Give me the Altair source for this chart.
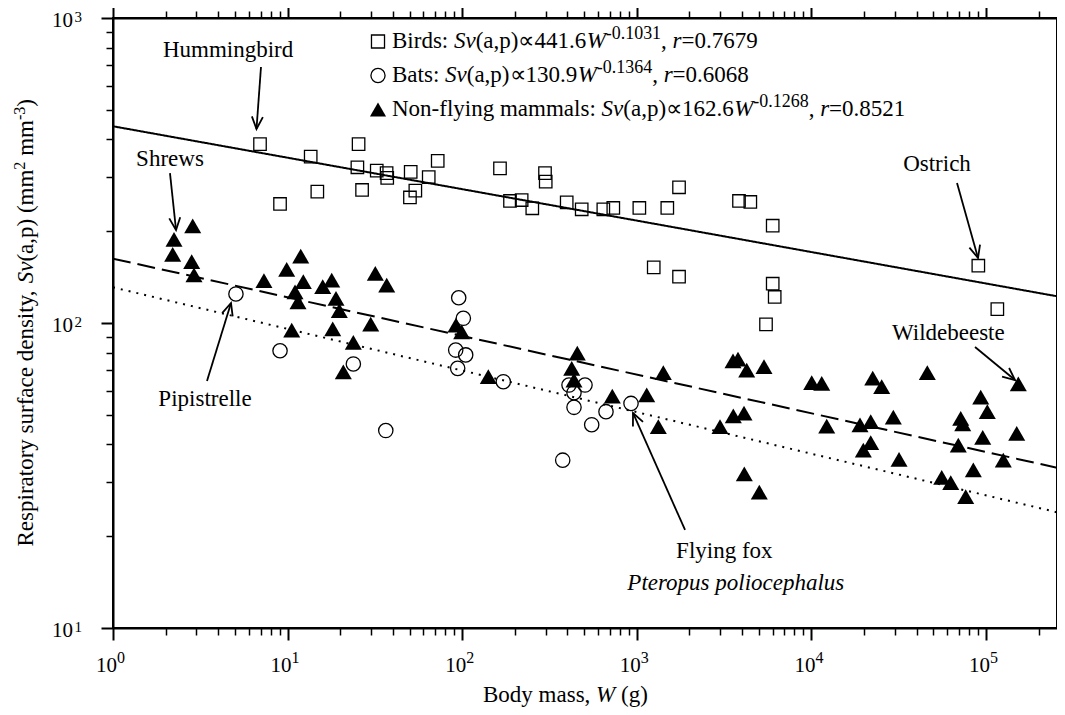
import math
import altair as alt
import pandas as pd

# ---------------- data ----------------
bird_mass = [6.95, 13.56, 25.5, 25.1, 32.4, 36.9, 37.2, 50.7, 64.3, 72.4, 53.9, 50.2, 14.8,
             26.7, 9.05, 164.6, 298, 300.8, 187.8, 219, 252, 396.7, 483.5, 643, 733.5, 1034,
             1495, 1745, 3848, 4468, 6002, 1250, 1745, 6002, 6162, 5495, 90360, 116100]
bird_sv = [386, 351, 386, 324, 316, 310, 299, 313, 301, 340, 271.6, 258, 269.5,
           273, 245.6, 321.5, 310, 290.6, 251.2, 253, 237.8, 248.7, 236, 236, 238.3, 238.3,
           238.3, 278.6, 251.2, 249.3, 208.4, 152.2, 141.8, 134.5, 121.7, 99.0, 154.1, 111.1]

bat_mass = [5.06, 95.5, 101.5, 9.05, 23.8, 36.5, 91.8, 104.7, 94.2, 172, 409, 505,
            436.8, 436.8, 551.6, 376.4, 666, 926.4]
bat_sv = [124.5, 121, 103.6, 81.1, 73.4, 44.4, 81.5, 78.6, 71.0, 64.2, 62.6, 62.6,
          59.1, 52.9, 46.4, 35.5, 51.2, 54.5]

mam_mass = [2.236, 2.861, 2.197, 2.823, 2.910, 11.89, 9.88, 7.32, 12.30, 15.89, 17.89, 11.03,
            11.47, 18.93, 19.78, 31.79, 36.95, 29.92, 10.56, 18.13, 23.79, 20.85, 92.1, 99.3,
            141.1, 456.2, 423.8, 436.8, 723.9, 1139.5, 1418.5, 1328, 3556, 3798, 4260, 5351,
            2996, 3570, 4111, 4127, 5030, 10040, 11460, 12235, 22450, 25270, 18980, 21860,
            21860, 19830, 29450, 31760, 46100, 55760, 62800, 76500, 69390, 71630, 73550,
            93250, 101700, 95740, 84600, 125600, 153100, 149900]
mam_sv = [188.1, 208.0, 168.0, 158.9, 143.7, 165.8, 150.0, 137.6, 136.6, 131.5, 138.3, 126.4,
          117.2, 120.5, 109.7, 145.5, 133.2, 99.2, 94.8, 95.6, 86.4, 69.2, 98.5, 93.6,
          66.7, 79.6, 71.0, 65.0, 57.6, 58.1, 68.7, 45.7, 75.1, 76.2, 70.1, 71.9,
          45.7, 49.6, 50.6, 32.0, 27.9, 63.7, 63.4, 45.9, 65.9, 61.8, 46.3, 47.5,
          40.5, 38.3, 49.1, 35.7, 68.7, 31.2, 29.95, 26.95, 39.8, 48.7, 46.7,
          57.1, 51.2, 42.2, 33.0, 35.5, 63.1, 43.5]

fit_names = ["Birds", "Bats", "Non-flying mammals"]
fit_coef = [441.6, 130.9, 162.6]
fit_exp = [-0.1031, -0.1364, -0.1268]
fit_r = [0.7679, 0.6068, 0.8521]

x_major = [1, 10, 100, 1000, 10000, 100000]
x_exp_labels = ["0", "1", "2", "3", "4", "5"]
y_major = [10, 100, 1000]
y_exp_labels = ["1", "2", "3"]

ann_text = ["Hummingbird", "Shrews", "Ostrich", "Wildebeeste", "Pipistrelle", "Flying fox"]
ann_x = [4.56, 2.12, 52410, 60830, 3.365, 3171]
ann_y = [747.5, 326.1, 313.9, 87.96, 53.63, 17.02]
arrow_x1 = [7.04, 2.12, 68220, 86500, 3.454, 1889]
arrow_y1 = [690.8, 310.2, 287.7, 83.4, 64.5, 20.96]
arrow_x2 = [6.635, 2.296, 90000, 146600, 4.741, 951]
arrow_y2 = [432.6, 201.8, 163.4, 65.0, 116.3, 50.7]
species_text = ["Pteropus poliocephalus"]
species_x = [3690]
species_y = [13.32]

# ---------------- layout ----------------
WIDTH, HEIGHT = 944, 610
XMAX = 255000
XDOM = [1, XMAX]
YDOM = [10, 1000]
DECX = WIDTH / math.log10(XMAX)
DECY = HEIGHT / 2.0
FONT = "Liberation Serif"
FS = 23

xs = alt.Scale(type="log", domain=XDOM, nice=False)
ys = alt.Scale(type="log", domain=YDOM, nice=False)

MAJOR = "abs(log(datum.value)/LN10 - round(log(datum.value)/LN10)) < 0.001"
x_ticks = [m * 10 ** k for k in range(0, 6) for m in range(1, 10) if m * 10 ** k <= XMAX]
y_ticks = [m * 10 ** k for k in (1, 2) for m in range(1, 10)] + [1000]


def axis(orient, values):
    return alt.Axis(orient=orient, values=values, labels=False, title=None, grid=False,
                    domain=True, domainColor="black", domainWidth=2, tickColor="black",
                    tickSize={"condition": {"test": MAJOR, "value": 12}, "value": 7},
                    tickWidth={"condition": {"test": MAJOR, "value": 2}, "value": 1.5})


def X(field, ax=None):
    return alt.X(field, type="quantitative", scale=xs, axis=ax)


def Y(field, ax=None):
    return alt.Y(field, type="quantitative", scale=ys, axis=ax)


ONE = pd.DataFrame({"k": [0]})

REG = {' ': 250, ',': 250, '.': 250, ':': 278, '(': 333, ')': 333, '=': 564, '-': 333,
       '\u221d': 713, 'a': 444, 'b': 500, 'c': 444, 'd': 500, 'e': 444, 'f': 333, 'g': 500,
       'h': 500, 'i': 278, 'l': 278, 'm': 778, 'n': 500, 'o': 500, 'p': 500, 'r': 333,
       's': 389, 't': 278, 'u': 500, 'v': 500, 'y': 500, 'B': 667, 'N': 722, 'R': 667}
ITA = {'S': 500, 'v': 444, 'W': 833, 'r': 389}


def tw(text, kind, fs):
    tab = ITA if kind == "i" else REG
    return sum(tab.get(ch, 500) for ch in text) / 1000.0 * fs


def rich(segs, x0, y0, size, angle=0, sup=0.7, raise_frac=0.38):
    out = []
    pos = 0.0
    for text, kind in segs:
        fs = size * sup if kind == "sup" else size
        rz = size * raise_frac if kind == "sup" else 0.0
        style = "italic" if kind == "i" else "normal"
        lead = len(text) - len(text.lstrip(" "))
        pos += lead * REG[" "] / 1000.0 * fs
        body = text.lstrip(" ")
        if angle == 0:
            px, py = x0 + pos, y0 - rz
        else:
            px, py = x0 - rz, y0 - pos
        mk = dict(text=body, align="left", baseline="alphabetic", font=FONT, fontSize=fs,
                  fontStyle=style, color="black")
        if angle:
            mk["angle"] = angle
        out.append(alt.Chart(ONE).mark_text(**mk).encode(x=alt.value(px), y=alt.value(py)))
        pos += tw(body, kind, fs)
    return out


# ---------------- axes (frame with ticks on four sides) ----------------
corner = pd.DataFrame({"W": XDOM, "S": YDOM})
ax_bl = alt.Chart(corner).mark_point(opacity=0).encode(
    x=X("W", axis("bottom", x_ticks)), y=Y("S", axis("left", y_ticks)))
ax_tr = alt.Chart(corner).mark_point(opacity=0).encode(
    x=X("W", axis("top", x_ticks)), y=Y("S", axis("right", y_ticks)))

# ---------------- tick labels ----------------
xlab = pd.DataFrame({"W": x_major, "e": x_exp_labels})
ylab = pd.DataFrame({"S": y_major, "e": y_exp_labels})
xl10 = alt.Chart(xlab).mark_text(text="10", align="right", baseline="alphabetic", dx=4,
                                 font=FONT, fontSize=21, color="black").encode(
    x=X("W"), y=alt.value(HEIGHT + 44))
xlexp = alt.Chart(xlab).mark_text(align="left", baseline="alphabetic", dx=4,
                                  font=FONT, fontSize=16, color="black").encode(
    x=X("W"), y=alt.value(HEIGHT + 35), text="e:N")
yl10 = alt.Chart(ylab).mark_text(text="10", align="right", baseline="alphabetic", dy=9,
                                 font=FONT, fontSize=21, color="black").encode(
    x=alt.value(-40), y=Y("S"))
ylexp = alt.Chart(ylab).mark_text(align="right", baseline="alphabetic", dy=4,
                                  font=FONT, fontSize=15, color="black").encode(
    x=alt.value(-31), y=Y("S"), text="e:N")

# ---------------- fit lines ----------------
dash = [[1, 0], [2, 6], [18, 7]]
fit_layers = []
for name, a, b, d in zip(fit_names, fit_coef, fit_exp, dash):
    df = pd.DataFrame({"W": XDOM, "S": [a * w ** b for w in XDOM]})
    fit_layers.append(alt.Chart(df).mark_line(color="black", strokeWidth=2, strokeDash=d,
                                              clip=True).encode(x=X("W"), y=Y("S")))

# ---------------- points ----------------
p_birds = alt.Chart(pd.DataFrame({"W": bird_mass, "S": bird_sv})).mark_point(
    shape="square", filled=False, color="black", opacity=1, size=155, strokeWidth=1.3
).encode(x=X("W"), y=Y("S"))
p_bats = alt.Chart(pd.DataFrame({"W": bat_mass, "S": bat_sv})).mark_point(
    shape="circle", filled=False, color="black", opacity=1, size=205, strokeWidth=1.3
).encode(x=X("W"), y=Y("S"))
p_mam = alt.Chart(pd.DataFrame({"W": mam_mass, "S": mam_sv})).mark_point(
    shape="triangle-up", filled=True, color="black", opacity=1, size=290
).encode(x=X("W"), y=Y("S"))

# ---------------- annotations ----------------
ann = pd.DataFrame({"t": ann_text, "W": ann_x, "S": ann_y})
t_ann = alt.Chart(ann).mark_text(align="center", baseline="alphabetic", font=FONT,
                                 fontSize=FS, color="black").encode(x=X("W"), y=Y("S"), text="t:N")
sp = pd.DataFrame({"t": species_text, "W": species_x, "S": species_y})
t_sp = alt.Chart(sp).mark_text(align="center", baseline="alphabetic", font=FONT, fontSize=FS,
                               fontStyle="italic", color="black").encode(
    x=X("W"), y=Y("S"), text="t:N")

angles = []
for x1, y1, x2, y2 in zip(arrow_x1, arrow_y1, arrow_x2, arrow_y2):
    dxp = (math.log10(x2) - math.log10(x1)) * DECX
    dyp = -(math.log10(y2) - math.log10(y1)) * DECY
    angles.append(math.degrees(math.atan2(dxp, -dyp)) % 360)
arr = pd.DataFrame({"x1": arrow_x1, "y1": arrow_y1, "x2": arrow_x2, "y2": arrow_y2,
                    "ang": angles})
a_rule = alt.Chart(arr).mark_rule(color="black", strokeWidth=1.8).encode(
    x=X("x1"), y=Y("y1"), x2="x2", y2="y2")
a_head = alt.Chart(arr).mark_point(shape="M-0.45,1L0,0L0.45,1", filled=False, color="black",
                                   opacity=1, size=600, strokeWidth=1.8).encode(
    x=X("x2"), y=Y("y2"), angle=alt.Angle("ang:Q", scale=None))

# ---------------- legend (in-plot) ----------------
LX_MARK, LX_TEXT = 265, 279
L_BASE = [29.5, 63.5, 97.5]
shapes = [("square", False, 170), ("circle", False, 200), ("triangle-up", True, 260)]
legend_layers = []
for i, (name, a, b, r) in enumerate(zip(fit_names, fit_coef, fit_exp, fit_r)):
    shp, fill, sz = shapes[i]
    legend_layers.append(alt.Chart(ONE).mark_point(
        shape=shp, filled=fill, color="black", opacity=1, size=sz, strokeWidth=1.3
    ).encode(x=alt.value(LX_MARK), y=alt.value(L_BASE[i] - 6)))
    segs = [(f"{name}: ", "n"), ("Sv", "i"), (f"(a,p)\u221d{a}", "n"), ("W", "i"),
            (f"{b}", "sup"), (", ", "n"), ("r", "i"), (f"={r}", "n")]
    legend_layers += rich(segs, LX_TEXT, L_BASE[i], FS, sup=0.78)

# ---------------- axis titles ----------------
xt = rich([("Body mass, ", "n"), ("W", "i"), (" (g)", "n")], 370, 684, FS)
yt_segs = [("Respiratory surface density, ", "n"), ("Sv", "i"), ("(a,p) (mm", "n"),
           ("2", "sup"), (" mm", "n"), ("-3", "sup"), (")", "n")]
yt = rich(yt_segs, -80, 528.5, FS, angle=270, raise_frac=0.33)

chart = alt.layer(
    ax_bl, ax_tr, *fit_layers, p_birds, p_bats, p_mam, a_rule, a_head, t_ann, t_sp,
    xl10, xlexp, yl10, ylexp, *legend_layers, *xt, *yt
).resolve_axis(x="independent", y="independent").properties(
    width=WIDTH, height=HEIGHT,
    autosize=alt.AutoSizeParams(type="none"),
    padding={"left": 105, "top": 10, "right": 0, "bottom": 79},
    background="white",
).configure_view(stroke="black", strokeWidth=2)

chart.save("out.html", embed_options={"renderer": "svg", "actions": False})
